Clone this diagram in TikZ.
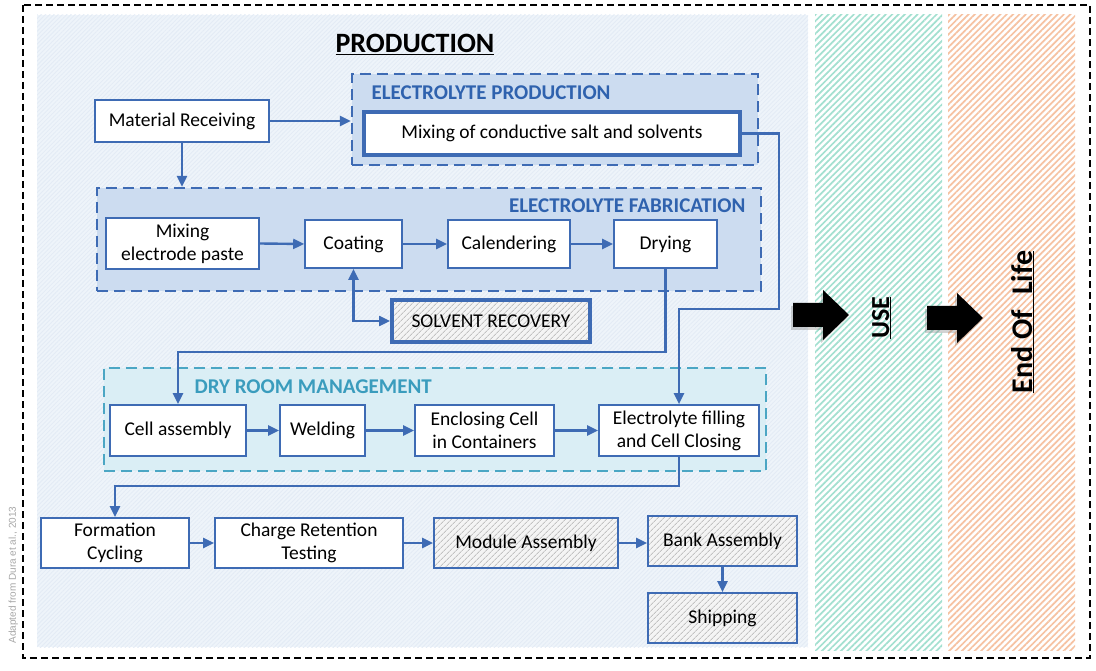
\documentclass[tikz,border=0pt]{standalone}
\usepackage{fontspec}
\setmainfont{Carlito}
\newfontfamily\notefont{Liberation Sans}
\usetikzlibrary{arrows.meta, patterns.meta, shadows}
\definecolor{flowblue}{HTML}{3E6BB4}
\definecolor{titleblue}{HTML}{2F62AE}
\definecolor{prodbg}{HTML}{EEF4FA}
\definecolor{prodhatch}{HTML}{E3EBF5}
\definecolor{groupfill}{HTML}{CCDCF0}
\definecolor{dryteal}{HTML}{4BA6C4}
\definecolor{dryfill}{HTML}{DAEEF5}
\definecolor{drytitle}{HTML}{3A9CBD}
\definecolor{usegreen}{HTML}{A3E0D0}
\definecolor{eolorange}{HTML}{F6C2A2}
\definecolor{hatchgray}{HTML}{C2C2C2}
\definecolor{notegray}{HTML}{A6A6A6}

\begin{document}
\begin{tikzpicture}[x=1pt, y=-1pt, >={Triangle[length=11pt, width=10pt]},
  boxsize/.style 2 args={minimum width=#1pt, minimum height=#2pt},
  procbox/.style={draw=flowblue, line width=1.6pt, fill=white, align=center,
    inner sep=2pt, font=\fontsize{19.5}{23}\selectfont},
  hatchbox/.style={procbox, fill=none, preaction={fill=gray!9},
    preaction={pattern={Lines[angle=45, distance=4pt, line width=1pt]}, pattern color=hatchgray}},
  groupbox/.style={draw=flowblue, line width=2.4pt, dash pattern=on 11pt off 6pt, fill=groupfill},
  grouptitle/.style={text=titleblue, font=\fontsize{21}{25}\selectfont\bfseries},
  flow/.style={flowblue, line width=2.4pt, ->}]

\useasboundingbox (0,0) rectangle (1096,671);

% Background panels
\fill[prodbg] (37,15) rectangle (808,647);
\fill[pattern={Lines[angle=45, distance=3pt, line width=0.8pt]}, pattern color=prodhatch]
  (37,15) rectangle (808,647);
\fill[white] (815,15) rectangle (942,650);
\fill[pattern={Lines[angle=45, distance=4.5pt, line width=1.7pt]}, pattern color=usegreen]
  (815,15) rectangle (942,650);
\fill[white] (948,15) rectangle (1075,650);
\fill[pattern={Lines[angle=45, distance=4.5pt, line width=1.7pt]}, pattern color=eolorange]
  (948,15) rectangle (1075,650);

% Outer frame
\draw[black, line width=2.5pt, dash pattern=on 7pt off 4pt] (23,5) rectangle (1090,658);

% Title
\node[font=\fontsize{28}{33}\selectfont\bfseries, anchor=base] (prodtitle) at (415,53)
  {\underline{PRODUCTION}};

% Groups
\node[groupbox, boxsize={406}{91}] (epgroup) at (555,119.5) {};
\node[grouptitle, anchor=west] (eptitle) at (368,93) {ELECTROLYTE PRODUCTION};

\node[groupbox, boxsize={664}{103}] (efgroup) at (429,239.5) {};
\node[grouptitle, anchor=east] (eftitle) at (749,206) {ELECTROLYTE FABRICATION};

\node[groupbox, draw=dryteal, fill=dryfill, boxsize={662}{103}] (drygroup) at (435,419.5) {};
\node[grouptitle, text=drytitle, anchor=west] (drytitle) at (191,387) {DRY ROOM MANAGEMENT};

% Process boxes
\node[procbox, boxsize={174}{42}] (matrec) at (182,121) {Material Receiving};
\node[procbox, line width=4pt, boxsize={376}{43}] (mixsalt) at (552,133.5)
  {Mixing of conductive salt and solvents};

\node[procbox, boxsize={153}{51}] (mixpaste) at (182.5,243.5) {Mixing\\electrode paste};
\node[procbox, boxsize={97}{48}] (coating) at (353.5,244) {Coating};
\node[procbox, boxsize={122}{48}] (calender) at (509,244) {Calendering};
\node[procbox, boxsize={103}{48}] (drying) at (665.5,244) {Drying};
\node[hatchbox, line width=4pt, boxsize={198}{42}] (solvent) at (491,321) {SOLVENT RECOVERY};

\node[procbox, boxsize={136}{51}] (cellasm) at (178,430.5) {Cell assembly};
\node[procbox, boxsize={85}{51}] (welding) at (322.5,430.5) {Welding};
\node[procbox, boxsize={139}{51}] (enclose) at (484.5,430.5) {Enclosing Cell\\in Containers};
\node[procbox, boxsize={160}{51}] (efill) at (679,430.5) {Electrolyte filling\\and Cell Closing};

\node[procbox, boxsize={148}{50}] (formation) at (115,543) {Formation\\Cycling};
\node[procbox, boxsize={188}{50}] (charge) at (309,543) {Charge Retention\\Testing};
\node[hatchbox, boxsize={184}{50}] (module) at (526,543) {Module Assembly};
\node[hatchbox, boxsize={149}{50}] (bank) at (722.5,541) {Bank Assembly};
\node[hatchbox, boxsize={149}{50}] (shipping) at (722.5,618) {Shipping};

% Turning points of the long connectors
\coordinate (saltturn) at (779,309);
\coordinate (dryturn) at (0,352);
\coordinate (fillturn) at (0,486);

% Connectors
\draw[flow] (matrec.east) -- (matrec.east -| epgroup.west);
\draw[flow] (matrec.south) -- (matrec.south |- efgroup.north);
\draw[flow] (mixpaste.east) -- (coating.west);
\draw[flow] (coating.east) -- (calender.west);
\draw[flow] (calender.east) -- (drying.west);
\draw[flow, <->] (coating.south) |- (solvent.west);
\draw[flow] (drying.south) -- (drying.south |- dryturn) -| (cellasm.north);
\draw[flow] (mixsalt.east) -| (saltturn) -| (efill.north);
\draw[flow] (cellasm.east) -- (welding.west);
\draw[flow] (welding.east) -- (enclose.west);
\draw[flow] (enclose.east) -- (efill.west);
\draw[flow] (efill.south) -- (efill.south |- fillturn) -| (formation.north);
\draw[flow] (formation.east) -- (charge.west);
\draw[flow] (charge.east) -- (charge.east -| module.west);
\draw[flow] (module.east) -- (module.east -| bank.west);
\draw[flow] (bank.south) -- (shipping.north);

% Block arrows to the later phases
\foreach \dx/\dy in {0/0, 134/3}
  \fill[black, drop shadow={shadow xshift=-2pt, shadow yshift=-3pt, opacity=0.35}]
    (793+\dx,303+\dy) -- (823+\dx,303+\dy) -- (823+\dx,290+\dy) -- (849+\dx,315+\dy)
    -- (823+\dx,340+\dy) -- (823+\dx,327+\dy) -- (793+\dx,327+\dy) -- cycle;

% Phase labels
\node[rotate=90, anchor=base, font=\fontsize{26}{30}\selectfont\bfseries] (uselabel)
  at (889,318) {\underline{USE}};
\node[rotate=90, anchor=base, font=\fontsize{30}{34}\selectfont\bfseries] (eollabel)
  at (1032,322) {\underline{End Of\enspace Life}};

% Source note
\node[rotate=90, anchor=base, text=notegray, font=\notefont\fontsize{10}{12}\selectfont]
  (srcnote) at (16,575) {Adapted from Dura et al., 2013};

\end{tikzpicture}
\end{document}
